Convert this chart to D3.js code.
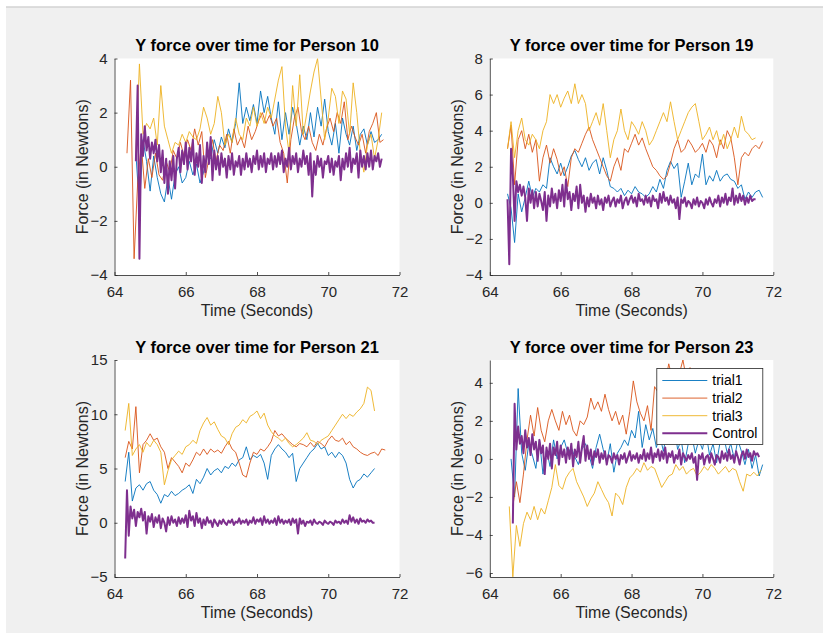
<!DOCTYPE html>
<html><head><meta charset="utf-8">
<script src="https://cdn.jsdelivr.net/npm/d3@7"></script>
<style>
body{margin:0;background:#fff;}
svg{display:block;}
text{font-family:"Liberation Sans",Arial,Helvetica,sans-serif;}
</style></head><body>
<svg id="chart" width="823" height="633"></svg>
<script>
// ---------- data ----------
const xTicks = [64, 66, 68, 70, 72];
const xDomain = [64, 72];
const seriesNames = ["trial1", "trial2", "trial3", "Control"];
const titles = ["Y force over time for Person 10", "Y force over time for Person 19",
                "Y force over time for Person 21", "Y force over time for Person 23"];
const yDomains = [[-4, 4], [-4, 8], [-5, 15], [-6.21, 5.2]];
const yTicks = [[-4, -2, 0, 2, 4], [-4, -2, 0, 2, 4, 6, 8], [-5, 0, 5, 10, 15], [-6, -4, -2, 0, 2, 4]];
const xLabel = "Time (Seconds)";
const yLabel = "Force (in Newtons)";
// sample spacing (s) of trial and control recordings
const trialStep = 0.1;
const controlStep = 0.05;
// start time (s) of each series: trial1, trial2, trial3, Control
const p10_start = [64.6, 64.35, 64.6, 64.6];
const p19_start = [64.5, 64.5, 64.5, 64.5];
const p21_start = [64.3, 64.3, 64.3, 64.3];
const p23_start = [64.6, 64.65, 64.55, 64.65];

// Person 10
const p10_trial1 = [0.5,-1.5,1.0,0.2,-0.9,0.4,-0.4,-1.0,-1.3,-0.4,
-1.2,-0.3,0.0,-0.6,-0.4,0.2,-0.3,0.1,-0.6,-0.2,
0.4,0.3,1.0,0.5,1.1,0.7,1.4,0.9,1.6,3.1,
1.6,2.2,1.7,2.3,1.6,2.8,2.0,2.6,1.8,1.2,
2.4,1.0,2.0,1.2,2.2,1.6,0.8,1.5,1.0,2.0,
1.1,2.2,1.5,2.5,1.3,0.8,1.6,0.5,1.8,1.2,
0.8,1.5,0.6,1.2,1.4,0.8,1.3,0.9,1.0,1.2];
const p10_trial2 = [0.5,3.2,-3.4,-0.6,0.8,-0.8,0.3,-0.4,0.5,-0.3,
-0.5,0.2,-0.2,0.6,0.3,0.9,0.4,1.0,0.6,1.4,
0.8,1.3,-0.4,0.3,1.0,0.2,0.8,0.6,1.2,0.5,
1.4,0.8,1.1,0.7,1.5,1.0,1.3,1.7,2.0,1.6,
1.9,1.5,1.8,0.9,0.5,-0.6,1.0,1.8,2.2,1.3,
1.0,1.5,0.9,0.6,1.2,0.8,1.4,1.8,1.3,2.0,
1.6,2.4,1.0,1.5,1.1,0.8,1.2,0.5,1.3,1.6,
2.0,0.9,1.0];
const p10_trial3 = [0.5,3.8,1.2,1.6,1.4,1.8,0.8,3.0,1.5,1.0,
0.5,0.9,0.8,1.2,0.9,1.3,1.1,1.0,1.4,2.2,
1.8,1.2,1.6,2.6,2.0,0.8,1.2,0.9,1.8,1.2,
1.0,1.8,1.5,2.2,1.5,2.0,1.6,2.2,1.8,2.5,
3.2,3.7,1.5,0.5,3.0,1.5,3.4,1.2,2.0,2.8,
3.5,4.0,2.5,1.0,1.8,2.9,2.6,1.6,2.8,2.5,
1.2,3.1,2.0,0.5,-0.2,0.8,1.2,0.3,1.0,2.0];
const p10_control = [0.2,3.0,-3.4,1.2,0.4,1.5,0.6,1.1,0.3,0.9,
0.5,1.0,0.2,0.8,-0.2,0.6,-0.6,0.3,-1.0,0.2,
-0.5,0.4,-0.8,0.3,0.7,-0.2,0.6,0.1,0.9,-0.1,
0.7,0.2,1.0,-0.3,0.5,0.0,0.8,-0.6,0.4,-0.2,
0.9,0.1,1.1,-0.5,0.6,-0.1,0.4,-0.3,0.5,0.0,
0.3,-0.4,0.4,-0.1,0.5,-0.3,0.2,0.0,0.4,-0.3,
0.3,-0.1,0.5,0.0,0.3,-0.2,0.4,0.1,0.6,-0.1,
0.4,0.0,0.5,-0.2,0.3,0.1,0.5,-0.1,0.4,0.0,
0.5,0.1,0.6,-0.2,0.3,0.0,0.7,-0.1,0.4,0.1,
0.5,-0.2,0.3,0.0,0.6,0.1,0.4,-0.3,0.5,-1.1,
0.2,-0.3,0.4,0.0,0.3,-0.4,0.2,0.1,0.4,-0.2,
0.3,-0.3,0.2,0.0,0.4,-0.5,0.3,-0.1,0.5,0.0,
0.7,-0.2,0.3,0.1,0.5,-0.4,0.6,0.0,0.4,-0.1,
0.5,0.0,0.6,-0.1,0.4,0.2,0.5,0.0,0.3];

// Person 19
const p19_trial1 = [0.5,-0.3,-2.2,0.5,-0.5,0.3,1.2,0.3,0.8,0.6,
1.0,0.8,2.5,2.0,1.6,2.2,1.5,2.0,2.6,2.9,
2.4,2.0,2.5,1.8,2.2,2.4,1.6,2.5,1.8,0.9,
0.8,0.6,0.8,0.4,0.7,0.5,0.9,0.6,0.5,0.3,
0.5,0.9,0.6,1.3,0.8,1.8,2.3,1.9,2.2,0.3,
1.2,2.2,1.0,1.6,1.4,2.7,1.0,1.5,1.2,1.8,
1.2,1.5,1.6,1.3,1.2,0.8,1.0,0.2,0.6,0.3,
0.6,0.7,0.3];
const p19_trial2 = [3.0,4.3,1.0,3.5,4.0,3.0,3.8,2.8,3.5,1.2,
2.5,3.2,2.2,3.0,2.4,1.5,2.0,0.9,2.5,3.0,
2.8,3.3,3.8,4.2,3.5,3.0,2.5,2.0,1.5,1.2,
2.0,2.5,1.8,3.0,2.8,3.3,3.8,3.2,3.6,3.0,
2.5,2.0,1.8,1.5,1.3,1.5,2.2,3.0,3.5,2.8,
3.0,3.5,3.2,2.8,3.0,3.3,2.8,3.5,3.2,2.5,
3.5,3.0,4.0,3.6,2.5,1.0,2.5,2.8,2.6,3.0,
3.2,3.0,3.4];
const p19_trial3 = [3.0,4.5,2.5,4.0,4.7,3.5,3.2,3.8,3.5,3.0,
4.0,4.5,6.0,5.5,6.0,5.3,5.8,6.2,5.5,6.6,
5.5,6.0,5.5,4.0,4.5,5.0,4.3,5.5,4.0,2.5,
3.5,4.0,5.2,4.0,3.5,4.5,4.2,3.8,4.5,4.0,
3.2,3.5,4.0,4.5,5.0,4.5,5.6,4.5,3.5,4.0,
4.5,5.0,5.3,5.5,4.5,3.5,3.8,4.2,3.5,4.0,
3.2,3.8,3.0,3.5,4.2,3.6,4.8,4.0,3.8,3.5,
3.6];
const p19_control = [0.2,-3.4,3.0,1.5,-1.0,1.2,0.6,1.0,0.4,0.9,
0.3,-1.0,0.8,0.0,0.7,-0.3,0.6,-0.2,0.5,0.1,
-0.4,0.6,-1.0,0.4,-0.2,0.8,0.0,0.5,-0.3,0.7,
0.1,1.0,-0.2,1.3,0.2,0.6,-0.4,0.5,0.1,0.9,
-0.3,1.0,0.0,0.4,-0.5,0.3,-0.2,0.5,0.0,0.3,
-0.3,0.4,-0.1,0.2,-0.4,0.3,0.0,0.4,-0.2,0.1,
0.3,-0.2,0.2,0.0,0.4,-0.3,0.1,0.3,-0.1,0.2,
0.4,0.0,0.3,-0.2,0.5,0.1,0.2,-0.1,0.4,0.0,
0.3,-0.2,0.4,0.1,0.2,-0.3,0.5,0.0,0.6,0.1,
0.3,-0.1,0.4,0.0,0.2,-0.3,0.3,-0.9,0.2,0.0,
0.3,-0.2,0.1,0.0,-0.3,0.2,-0.1,0.3,-0.2,0.1,
0.0,-0.3,0.2,-0.1,0.3,0.0,-0.2,0.2,0.0,0.4,
-0.2,0.3,0.0,0.5,-0.1,0.3,0.1,0.8,-0.1,0.4,
0.0,0.5,0.1,0.4,-0.1,0.3,0.0,0.4,0.1,0.2,
0.2];

// Person 21
const p21_trial1 = [3.8,6.5,2.0,3.2,3.5,3.0,3.6,3.8,3.0,2.6,
1.8,2.6,2.4,2.9,2.5,2.7,3.0,3.2,3.5,2.7,
4.0,3.6,4.2,5.0,4.4,4.8,5.0,4.6,5.2,5.0,
5.5,5.2,5.8,6.0,7.0,5.8,6.2,6.0,6.3,5.5,
4.0,6.2,6.8,7.2,6.8,6.5,6.0,6.4,3.8,5.0,
5.5,6.0,6.5,6.8,7.3,6.8,7.0,6.2,6.5,6.0,
6.5,6.2,5.5,4.0,3.2,3.8,4.0,4.5,4.2,4.6,
5.0];
const p21_trial2 = [6.0,7.5,6.8,10.7,4.6,7.2,7.6,8.2,7.6,7.8,
7.0,6.5,5.0,6.0,5.6,5.2,4.6,5.5,5.2,5.8,
6.5,6.2,6.8,6.3,6.8,6.5,6.7,6.4,7.0,7.5,
6.8,6.5,5.5,4.4,4.2,5.5,6.5,6.3,6.8,6.6,
7.0,7.5,8.5,8.0,8.2,7.8,7.5,7.2,7.0,7.3,
7.2,7.0,7.4,7.0,7.5,7.3,7.0,7.6,8.0,7.6,
7.5,7.8,7.2,7.5,7.0,6.8,6.5,6.3,6.2,6.4,
6.5,6.2,6.8,6.7];
const p21_trial3 = [8.5,11.0,6.2,6.8,7.2,6.5,7.4,7.0,7.6,7.2,
6.5,3.5,4.8,5.8,6.2,6.6,6.3,7.0,7.2,7.6,
7.3,8.5,9.2,9.7,9.0,9.3,8.6,8.0,7.8,7.2,
8.2,8.8,9.0,9.5,9.2,9.8,10.0,10.3,9.6,10.1,
9.0,8.4,8.0,7.8,7.5,7.8,7.3,7.0,7.2,7.5,
7.8,8.3,7.6,7.5,7.2,7.6,7.8,8.0,8.5,9.0,
9.5,10.0,9.6,10.0,9.8,10.2,10.5,11.0,12.5,12.2,
10.3];
const p21_control = [-3.3,3.0,-1.2,1.5,0.4,1.2,-0.3,1.0,0.5,1.3,
0.2,1.0,-1.0,0.6,0.1,0.8,-0.4,0.5,0.0,0.7,
-0.5,0.4,0.0,-0.8,0.5,-0.2,0.6,0.0,0.3,-0.3,
0.5,-0.1,0.4,0.0,0.7,-0.4,1.1,0.2,0.6,-0.3,
0.9,0.0,0.4,-0.5,0.3,-0.2,0.5,0.0,0.2,-0.4,
0.3,0.0,-0.3,0.2,-0.1,0.3,0.0,-0.2,0.2,0.0,
0.3,-0.2,0.1,0.0,0.4,-0.1,0.2,0.0,0.3,-0.2,
0.2,0.0,0.5,-0.1,0.3,0.1,0.4,-0.2,0.6,0.0,
0.3,-0.1,0.2,0.0,0.4,-0.2,0.6,0.0,0.3,-0.1,
0.2,0.0,0.3,-0.2,0.4,0.0,0.3,-1.0,0.4,-0.1,
0.2,-0.3,0.1,0.0,0.2,-0.2,0.3,0.0,-0.1,0.1,
0.0,-0.2,0.2,0.0,-0.1,0.1,0.0,-0.2,0.2,0.0,
0.1,-0.1,0.3,0.0,0.2,-0.1,0.7,0.1,0.5,0.0,
0.3,-0.1,0.4,0.1,0.2,0.0,0.3,0.1,0.2,0.0,
0.0];

// Person 23
const p23_trial1 = [0.0,-2.0,3.7,0.3,-0.6,0.8,0.2,-0.5,1.0,-0.8,
0.5,-0.4,1.0,0.0,0.6,1.0,0.3,0.6,0.1,-0.3,
0.5,0.8,0.2,-0.5,0.6,1.3,0.5,-0.2,0.8,-0.7,
0.3,0.6,1.0,0.7,1.5,1.1,2.5,0.6,1.8,1.0,
1.6,0.6,1.2,0.4,1.5,0.8,1.8,0.5,1.0,-0.2,
0.8,1.2,0.3,1.0,0.5,1.4,0.2,0.8,-0.2,0.9,
1.2,0.3,0.8,0.0,1.0,0.4,-0.3,0.5,-0.5,0.2,
-0.9,-0.3];
const p23_trial2 = [-2.5,-1.2,-2.3,-0.8,1.0,2.3,1.2,2.7,1.5,0.9,
2.0,2.6,2.0,1.5,2.5,1.8,2.3,1.5,1.2,2.0,
1.8,2.2,3.2,2.6,3.0,2.5,3.4,2.6,2.0,2.5,
1.8,2.3,1.3,2.5,4.1,3.0,2.4,2.0,2.8,1.5,
3.8,3.5,4.5,4.0,5.0,4.2,4.0,4.5,5.2,4.2,
4.8,4.0,3.8,3.5,4.2,3.6,3.0,3.8,3.2,4.0,
3.5,3.0,3.6,2.8,3.2,2.5,3.0,2.6,2.2];
const p23_trial3 = [-2.5,-6.2,-3.5,-4.6,-3.4,-2.8,-3.2,-2.5,-3.2,-2.6,-2.9,
-2.2,-1.5,-0.3,-1.4,-1.6,-1.0,-0.7,-0.5,-1.2,-1.6,
-2.0,-2.5,-2.1,-1.8,-1.2,-1.6,-2.0,-2.3,-3.0,-1.8,
-2.0,-2.4,-1.5,-1.0,-0.8,-0.5,-0.7,-0.2,-0.6,-0.4,
-0.5,-1.0,-1.5,-1.2,-0.9,-0.8,-0.3,-0.6,-0.4,-0.8,
-0.6,-0.5,-0.9,-0.7,-0.4,-0.6,-0.3,-0.5,-0.8,-0.6,
-0.4,-0.7,-0.5,-0.6,-1.2,-1.7,-0.8,-0.9,-0.7,-0.9,
-0.6];
const p23_control = [-3.4,2.9,0.5,1.7,0.8,1.2,0.3,1.5,0.6,1.1,
0.2,1.3,0.5,0.9,-0.1,1.0,0.3,0.7,-0.8,0.6,
0.0,0.8,-0.5,0.6,0.2,0.9,-0.3,0.7,0.1,0.5,
-0.2,0.6,0.0,0.8,-0.4,0.5,0.1,0.9,-0.2,0.6,
1.2,-0.1,0.7,0.0,0.5,-0.3,0.4,0.1,0.5,-0.2,
0.3,0.0,0.4,-0.3,0.2,0.1,-0.2,0.3,0.0,0.2,
-0.3,0.2,0.0,0.3,-0.2,0.1,0.4,-0.1,0.2,0.0,
0.3,-0.2,0.2,0.0,0.5,-0.1,0.3,0.0,0.6,-0.2,
0.3,0.1,0.5,-0.1,0.4,0.0,0.6,-0.2,0.3,0.1,
0.4,-0.2,0.2,0.0,0.5,-0.3,0.3,0.1,-0.1,0.2,
0.0,0.3,-0.2,0.1,-1.1,0.2,0.0,0.3,-0.3,0.1,
0.2,-0.2,0.3,0.0,-0.3,0.2,0.1,-0.2,0.4,0.0,
0.3,-0.1,0.5,0.0,0.2,-0.2,0.4,0.1,-0.3,0.2,
0.4,0.0,0.5,0.1,0.3,-0.1,0.4,0.2,0.3,0.1];

// ---------- layout & style ----------
const panelData = [
  {starts: p10_start, series: [p10_trial1, p10_trial2, p10_trial3, p10_control]},
  {starts: p19_start, series: [p19_trial1, p19_trial2, p19_trial3, p19_control]},
  {starts: p21_start, series: [p21_trial1, p21_trial2, p21_trial3, p21_control]},
  {starts: p23_start, series: [p23_trial1, p23_trial2, p23_trial3, p23_control]}
];
const boxes = [
  {l: 114.5, r: 399.5, t: 58.5, b: 275},
  {l: 489.8, r: 773.3, t: 58.5, b: 275},
  {l: 114.5, r: 399.5, t: 360, b: 577},
  {l: 489.8, r: 773.3, t: 360, b: 577}
];
const colors = ["#0072BD", "#D95319", "#EDB120", "#7E2F8E"];
const widths = [0.9, 0.9, 0.9, 2];
const axisColor = "#262626";

const svg = d3.select("#chart");
svg.append("rect").attr("x", 6).attr("y", 7.5).attr("width", 817).attr("height", 626).attr("fill", "#f0f0f0");
svg.append("line").attr("x1", 6).attr("x2", 823).attr("y1", 7).attr("y2", 7)
  .attr("stroke", "#bdbdbd").attr("stroke-width", 1);
const defs = svg.append("defs");

panelData.forEach((pd, i) => {
  const bx = boxes[i];
  const g = svg.append("g");
  const x = d3.scaleLinear().domain(xDomain).range([bx.l, bx.r]);
  const y = d3.scaleLinear().domain(yDomains[i]).range([bx.b, bx.t]);

  g.append("rect").attr("x", bx.l).attr("y", bx.t).attr("width", bx.r - bx.l).attr("height", bx.b - bx.t)
    .attr("fill", "#fff");

  defs.append("clipPath").attr("id", "clip" + i).append("rect")
    .attr("x", bx.l).attr("y", bx.t).attr("width", bx.r - bx.l).attr("height", bx.b - bx.t);

  const plot = g.append("g").attr("clip-path", `url(#clip${i})`);
  pd.series.forEach((vals, k) => {
    const step = k === 3 ? controlStep : trialStep;
    const t0 = pd.starts[k];
    const line = d3.line().x((d, j) => x(t0 + j * step)).y(d => y(d));
    plot.append("path").datum(vals).attr("d", line)
      .attr("fill", "none").attr("stroke", colors[k]).attr("stroke-width", widths[k])
      .attr("stroke-linejoin", "round");
  });

  const xAxis = g.append("g").attr("transform", `translate(0,${bx.b})`)
    .call(d3.axisBottom(x).tickValues(xTicks).tickFormat(d3.format("d"))
      .tickSizeInner(-3).tickSizeOuter(0).tickPadding(11));
  const yAxis = g.append("g").attr("transform", `translate(${bx.l},0)`)
    .call(d3.axisLeft(y).tickValues(yTicks[i]).tickFormat(d3.format("d"))
      .tickSizeInner(-3).tickSizeOuter(0).tickPadding(7));
  [xAxis, yAxis].forEach(a => {
    a.select(".domain").attr("stroke", axisColor).attr("stroke-width", 0.8);
    a.selectAll(".tick line").attr("stroke", axisColor).attr("stroke-width", 0.8);
    a.selectAll(".tick text").attr("fill", axisColor).style("font-size", "15px")
      .style("font-family", '"Liberation Sans",Arial,Helvetica,sans-serif');
  });

  g.append("text").attr("x", (bx.l + bx.r) / 2).attr("y", bx.t - 7.5)
    .attr("text-anchor", "middle").style("font-size", "16.5px").style("font-weight", "bold")
    .attr("fill", "#000").text(titles[i]);
  g.append("text").attr("x", (bx.l + bx.r) / 2).attr("y", bx.b + 41)
    .attr("text-anchor", "middle").style("font-size", "16px").attr("fill", axisColor).text(xLabel);
  g.append("text").attr("transform", `translate(${bx.l - 27},${(bx.t + bx.b) / 2}) rotate(-90)`)
    .attr("text-anchor", "middle").style("font-size", "16px").attr("fill", axisColor).text(yLabel);

  if (i === 3) {
    const lg = g.append("g").attr("transform", `translate(${bx.r - 117},${bx.t + 8})`);
    lg.append("rect").attr("x", 0.5).attr("y", 0.5).attr("width", 106).attr("height", 76)
      .attr("fill", "#fff").attr("stroke", axisColor).attr("stroke-width", 0.8);
    seriesNames.forEach((name, k) => {
      const yy = 12.5 + k * 17.6;
      lg.append("line").attr("x1", 6).attr("x2", 51).attr("y1", yy).attr("y2", yy)
        .attr("stroke", colors[k]).attr("stroke-width", widths[k]);
      lg.append("text").attr("x", 56).attr("y", yy).attr("dy", "0.35em")
        .style("font-size", "14px").attr("fill", "#000").text(name);
    });
  }
});
</script>
</body></html>
